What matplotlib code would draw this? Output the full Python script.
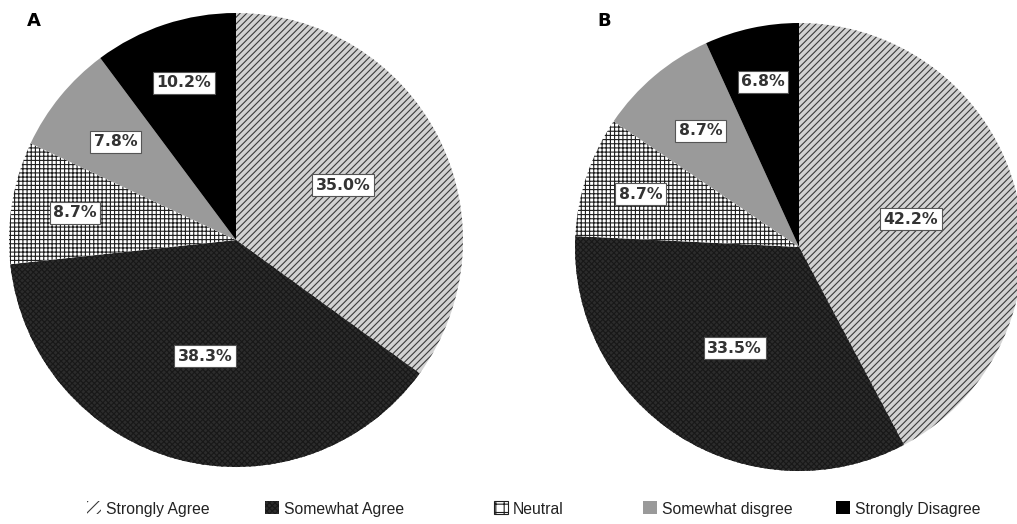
import matplotlib
matplotlib.use('Agg')
import matplotlib.pyplot as plt
from matplotlib.patches import Rectangle
import numpy as np

# ---------------- data ----------------
categories = ['Strongly Agree', 'Somewhat Agree', 'Neutral', 'Somewhat disgree', 'Strongly Disagree']
values_a = [35.0, 38.3, 8.7, 7.8, 10.2]
values_b = [42.2, 33.5, 8.7, 8.7, 6.8]
panel_titles = ['A', 'B']

# ---------------- styles ----------------
face_colors = ['#d2d2d2', '#2c2c2c', 'white', '#9a9a9a', 'black']
hatch_colors = ['#3a3a3a', '#181818', '#1e1e1e', '#9a9a9a', 'black']
hatches = ['/////', 'xxxxxx', '++++', '', '']
legend_faces = ['white', '#2c2c2c', 'white', '#9a9a9a', 'black']
legend_hatches = ['///', 'xxxxxx', '++', '', '']
legend_icon_lw = [0, 0, 0.8, 0, 0]
label_dist_a = [0.53, 0.53, 0.72, 0.685, 0.73]
label_dist_b = [0.515, 0.535, 0.745, 0.68, 0.755]
legend_x_px = [87, 265, 494, 643, 836]

plt.rcParams['hatch.linewidth'] = 0.8

W, H = 1017, 524
fig = plt.figure(figsize=(W / 100, H / 100), dpi=100)
LIM = 1.02


def add_pie_axes(cx, cy, r):
    half = r * LIM
    return fig.add_axes([(cx - half) / W, (H - cy - half) / H, 2 * half / W, 2 * half / H])


def draw_pie(ax, values, dists):
    wedges, _ = ax.pie(values, startangle=90, counterclock=False, radius=1,
                       wedgeprops=dict(linewidth=0))
    for w, fc, hc, hh in zip(wedges, face_colors, hatch_colors, hatches):
        w.set_facecolor(fc)
        w.set_edgecolor(hc)
        w.set_linewidth(0)
        if hh:
            w.set_hatch(hh)
    for w, v, d in zip(wedges, values, dists):
        th = np.deg2rad((w.theta1 + w.theta2) / 2)
        ax.text(d * np.cos(th), d * np.sin(th), f'{v:.1f}%', ha='center', va='center',
                fontsize=11.3, fontweight='bold', color='#333333', family='DejaVu Sans',
                bbox=dict(boxstyle='square,pad=0.22', fc='white', ec='#555555', lw=0.8))
    ax.set_xlim(-LIM, LIM)
    ax.set_ylim(-LIM, LIM)
    ax.set_aspect('equal')
    ax.axis('off')
    return wedges


ax_a = add_pie_axes(236, 240, 227)
ax_b = add_pie_axes(799, 247, 224)
wedges_a = draw_pie(ax_a, values_a, label_dist_a)
wedges_b = draw_pie(ax_b, values_b, label_dist_b)

fig.text(34 / W, 1 - 21.5 / H, panel_titles[0], ha='center', va='center',
         fontsize=13, fontweight='bold', color='black')
fig.text(604.5 / W, 1 - 21.5 / H, panel_titles[1], ha='center', va='center',
         fontsize=13, fontweight='bold', color='black')

# legend: icon squares + labels
icon_w, icon_h = 14, 13
icon_top = 501
baseline = 514
for name, xp, fc, hc, hh, lw in zip(categories, legend_x_px, legend_faces, hatch_colors,
                                     legend_hatches, legend_icon_lw):
    rect = Rectangle((xp / W, 1 - (icon_top + icon_h) / H), icon_w / W, icon_h / H,
                     transform=fig.transFigure, facecolor=fc, edgecolor=hc,
                     linewidth=lw, hatch=hh if hh else None)
    fig.add_artist(rect)
    fig.text((xp + icon_w + 5) / W, 1 - baseline / H, name, ha='left', va='baseline',
             fontsize=11.3, family='Liberation Sans', color='#222222')

fig.savefig('out.png', dpi=100, facecolor='white')
